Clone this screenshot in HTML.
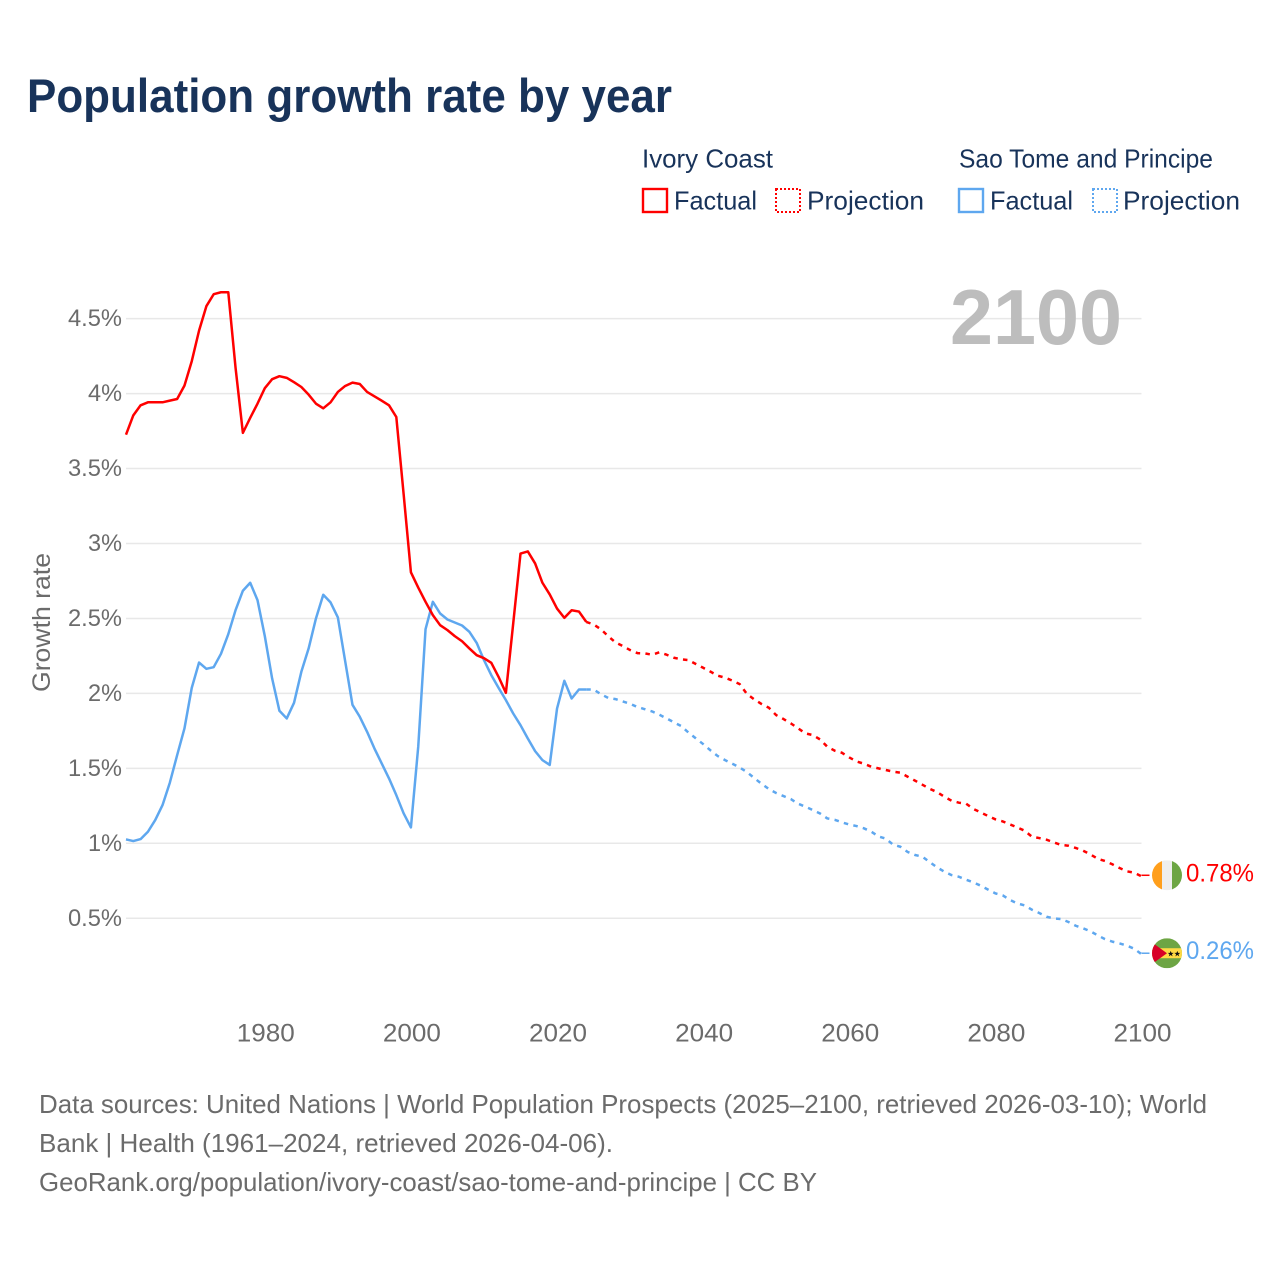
<!DOCTYPE html>
<html lang="en">
<head>
<meta charset="utf-8">
<title>Population growth rate by year</title>
<style>
html,body{margin:0;padding:0;background:#fff;}
svg{display:block;font-family:"Liberation Sans",sans-serif;}
</style>
</head>
<body>
<svg id="chart" xmlns="http://www.w3.org/2000/svg" width="1280" height="1280" viewBox="0 0 1280 1280">
  <defs>
    <clipPath id="flag-clip"><circle cx="0" cy="0" r="15"/></clipPath>
  </defs>
  <rect x="0" y="0" width="1280" height="1280" fill="#ffffff"/>

  <text x="27" y="112" font-size="47" font-weight="700" fill="#18335a" textLength="645" lengthAdjust="spacingAndGlyphs">Population growth rate by year</text>

  <g font-size="26" fill="#18335a">
    <text x="642" y="167.5" textLength="131" lengthAdjust="spacingAndGlyphs">Ivory Coast</text>
    <text x="959" y="167.5" textLength="254" lengthAdjust="spacingAndGlyphs">Sao Tome and Principe</text>
    <rect x="643" y="189" width="24" height="23" fill="none" stroke="#ff0000" stroke-width="2.4"/>
    <text x="674" y="209.5" textLength="83" lengthAdjust="spacingAndGlyphs">Factual</text>
    <rect x="776" y="189" width="24" height="23" fill="none" stroke="#ff0000" stroke-width="2" stroke-dasharray="2 2"/>
    <text x="807" y="209.5" textLength="117" lengthAdjust="spacingAndGlyphs">Projection</text>
    <rect x="959" y="189" width="24" height="23" fill="none" stroke="#5ea7ef" stroke-width="2.4"/>
    <text x="990" y="209.5" textLength="83" lengthAdjust="spacingAndGlyphs">Factual</text>
    <rect x="1093" y="189" width="24" height="23" fill="none" stroke="#5ea7ef" stroke-width="2" stroke-dasharray="2 2"/>
    <text x="1123" y="209.5" textLength="117" lengthAdjust="spacingAndGlyphs">Projection</text>
  </g>

  <text transform="translate(50 622.5) rotate(-90)" text-anchor="middle" font-size="25" fill="#6b6b6b" textLength="139" lengthAdjust="spacingAndGlyphs">Growth rate</text>

  <g id="grid"></g>
  <g id="yticks"></g>
  <g id="xticks"></g>

  <text x="950" y="344" font-size="78" font-weight="700" fill="#bdbdbd" textLength="172" lengthAdjust="spacingAndGlyphs">2100</text>

  <g id="series"></g>

  <g id="flag-ivory">
    <g clip-path="url(#flag-clip)">
      <rect x="-15" y="-15" width="10" height="30" fill="#ff9f1c"/>
      <rect x="-5" y="-15" width="10" height="30" fill="#eeeeee"/>
      <rect x="5" y="-15" width="10" height="30" fill="#6da544"/>
    </g>
  </g>
  <g id="flag-sao">
    <g clip-path="url(#flag-clip)">
      <rect x="-15" y="-15" width="30" height="30" fill="#6da544"/>
      <rect x="-15" y="-5" width="30" height="10" fill="#ffda44"/>
      <polygon points="-18,-13 0,0 -18,13" fill="#d80027"/>
      <polygon points="3.7,-2.4 4.5,-0.3 6.7,-0.3 4.9,1 5.6,3.1 3.7,1.8 1.8,3.1 2.5,1 0.7,-0.3 2.9,-0.3" fill="#111111"/>
      <polygon points="10.3,-2.4 11.1,-0.3 13.3,-0.3 11.5,1 12.2,3.1 10.3,1.8 8.4,3.1 9.1,1 7.3,-0.3 9.5,-0.3" fill="#111111"/>
    </g>
  </g>

  <g id="end-labels"></g>

  <g font-size="26" fill="#6b6b6b">
    <text x="39" y="1113" textLength="1168" lengthAdjust="spacingAndGlyphs">Data sources: United Nations | World Population Prospects (2025–2100, retrieved 2026-03-10); World</text>
    <text x="39" y="1152" textLength="574" lengthAdjust="spacingAndGlyphs">Bank | Health (1961–2024, retrieved 2026-04-06).</text>
    <text x="39" y="1191" textLength="778" lengthAdjust="spacingAndGlyphs">GeoRank.org/population/ivory-coast/sao-tome-and-principe | CC BY</text>
  </g>
</svg>

<script>
const factualYears = [1961,1962,1963,1964,1965,1966,1967,1968,1969,1970,1971,1972,1973,1974,1975,1976,1977,1978,1979,1980,1981,1982,1983,1984,1985,1986,1987,1988,1989,1990,1991,1992,1993,1994,1995,1996,1997,1998,1999,2000,2001,2002,2003,2004,2005,2006,2007,2008,2009,2010,2011,2012,2013,2014,2015,2016,2017,2018,2019,2020,2021,2022,2023,2024];
const projectionYears = [2025,2026,2027,2028,2029,2030,2031,2032,2033,2034,2035,2036,2037,2038,2039,2040,2041,2042,2043,2044,2045,2046,2047,2048,2049,2050,2051,2052,2053,2054,2055,2056,2057,2058,2059,2060,2061,2062,2063,2064,2065,2066,2067,2068,2069,2070,2071,2072,2073,2074,2075,2076,2077,2078,2079,2080,2081,2082,2083,2084,2085,2086,2087,2088,2089,2090,2091,2092,2093,2094,2095,2096,2097,2098,2099,2100];
const ivoryFactual = [3.726,3.855,3.922,3.942,3.942,3.942,3.953,3.964,4.053,4.216,4.42,4.583,4.663,4.676,4.676,4.17,3.738,3.838,3.933,4.036,4.096,4.116,4.105,4.076,4.044,3.993,3.933,3.902,3.942,4.011,4.051,4.073,4.064,4.011,3.982,3.953,3.922,3.844,3.33,2.808,2.706,2.611,2.522,2.455,2.422,2.382,2.348,2.3,2.255,2.235,2.204,2.11,2.004,2.466,2.933,2.947,2.867,2.738,2.66,2.566,2.504,2.555,2.546,2.477];
const ivoryProjection = [2.46,2.428,2.382,2.34,2.316,2.289,2.269,2.267,2.258,2.274,2.258,2.238,2.227,2.222,2.196,2.171,2.145,2.118,2.105,2.085,2.062,1.996,1.96,1.929,1.904,1.855,1.829,1.8,1.767,1.733,1.722,1.693,1.644,1.618,1.604,1.573,1.546,1.531,1.511,1.5,1.489,1.478,1.471,1.444,1.418,1.391,1.364,1.342,1.311,1.284,1.271,1.264,1.229,1.206,1.182,1.16,1.146,1.126,1.106,1.084,1.044,1.035,1.024,1.006,0.989,0.984,0.969,0.951,0.926,0.897,0.882,0.86,0.835,0.813,0.804,0.78];
const saoFactual = [1.026,1.015,1.028,1.077,1.155,1.255,1.404,1.588,1.766,2.037,2.206,2.164,2.175,2.264,2.395,2.556,2.685,2.738,2.622,2.382,2.1,1.884,1.833,1.937,2.144,2.3,2.5,2.658,2.607,2.507,2.215,1.924,1.844,1.744,1.633,1.533,1.433,1.321,1.2,1.106,1.644,2.428,2.611,2.533,2.493,2.473,2.453,2.411,2.337,2.222,2.122,2.037,1.955,1.866,1.788,1.699,1.615,1.555,1.523,1.899,2.084,1.966,2.026,2.026];
const saoProjection = [2.026,1.995,1.97,1.962,1.946,1.931,1.909,1.895,1.88,1.858,1.833,1.807,1.782,1.738,1.7,1.662,1.62,1.582,1.555,1.531,1.506,1.475,1.435,1.397,1.362,1.335,1.315,1.295,1.264,1.244,1.222,1.199,1.166,1.157,1.14,1.125,1.115,1.1,1.078,1.046,1.031,0.991,0.977,0.942,0.922,0.911,0.875,0.84,0.811,0.788,0.777,0.757,0.739,0.717,0.691,0.666,0.653,0.622,0.599,0.586,0.557,0.535,0.51,0.499,0.495,0.475,0.45,0.433,0.413,0.386,0.361,0.344,0.332,0.317,0.297,0.26];
const yTickValues = [0.5,1,1.5,2,2.5,3,3.5,4,4.5];
const yTickLabels = ["0.5%","1%","1.5%","2%","2.5%","3%","3.5%","4%","4.5%"];
const xTickValues = [1980,2000,2020,2040,2060,2080,2100];
const xTickLabels = ["1980","2000","2020","2040","2060","2080","2100"];

const SVGNS = 'http://www.w3.org/2000/svg';
const RED = '#ff0000';
const BLUE = '#5ea7ef';

function xScale(year) { return 126 + (year - 1961) * (1015.5 / 139); }
function yScale(v) { return 843.3 - (v - 1) * 149.9; }

function make(tag, attrs, parent) {
  const el = document.createElementNS(SVGNS, tag);
  for (const k in attrs) el.setAttribute(k, attrs[k]);
  parent.appendChild(el);
  return el;
}

function pathFor(years, values) {
  return values.map(function (v, i) {
    return (i ? 'L' : 'M') + xScale(years[i]).toFixed(2) + ' ' + yScale(v).toFixed(2);
  }).join(' ');
}

const gridGroup = document.getElementById('grid');
const yTickGroup = document.getElementById('yticks');
const xTickGroup = document.getElementById('xticks');
const seriesGroup = document.getElementById('series');
const labelGroup = document.getElementById('end-labels');

yTickValues.forEach(function (v, i) {
  const line = make('line', { x1: xScale(1961), x2: xScale(2100), y1: yScale(v), y2: yScale(v), stroke: '#e8e8e8', 'stroke-width': 1.5 }, gridGroup);
  
  
  const label = make('text', { x: 122, y: yScale(v) + 7.5, 'text-anchor': 'end', 'font-size': 24, fill: '#6b6b6b', textLength: yTickLabels[i].length > 2 ? 54 : 34, lengthAdjust: 'spacingAndGlyphs' }, yTickGroup);
  
  
  label.textContent = yTickLabels[i];
});

xTickValues.forEach(function (year, i) {
  const label = make('text', { x: xScale(year) + 1, y: 1041.5, 'text-anchor': 'middle', 'font-size': 25, fill: '#6b6b6b', textLength: 58, lengthAdjust: 'spacingAndGlyphs' }, xTickGroup);
  
  
  label.textContent = xTickLabels[i];
});

function drawSeries(factual, projection, color, key, flagId) {
  const lastFactualYear = factualYears[factualYears.length - 1];
  const lastFactual = factual[factual.length - 1];
  const lastYear = projectionYears[projectionYears.length - 1];
  const lastValue = projection[projection.length - 1];
  const endY = yScale(lastValue) - 1;

  const solid = make('path', { d: pathFor(factualYears, factual), fill: 'none', stroke: color, 'stroke-width': 2.5, 'stroke-linejoin': 'round' }, seriesGroup);
  
  

  const dashed = make('path', { d: pathFor([lastFactualYear].concat(projectionYears), [lastFactual].concat(projection)), fill: 'none', stroke: color, 'stroke-width': 2.5, 'stroke-linejoin': 'round', 'stroke-dasharray': '4.5 5.3' }, seriesGroup);
  
  

  const connector = make('line', { x1: xScale(lastYear), x2: xScale(lastYear) + 8, y1: endY, y2: endY, stroke: color, 'stroke-width': 1.5 }, seriesGroup);
  
  

  document.getElementById(flagId).setAttribute('transform', 'translate(1167 ' + endY + ')');

  const label = make('text', { x: 1186, y: endY + 6, 'font-size': 25, fill: color, textLength: 68, lengthAdjust: 'spacingAndGlyphs' }, labelGroup);
  
  
  label.textContent = lastValue.toFixed(2) + '%';
}

drawSeries(saoFactual, saoProjection, BLUE, 'sao-tome', 'flag-sao');
drawSeries(ivoryFactual, ivoryProjection, RED, 'ivory-coast', 'flag-ivory');
</script>
</body>
</html>
